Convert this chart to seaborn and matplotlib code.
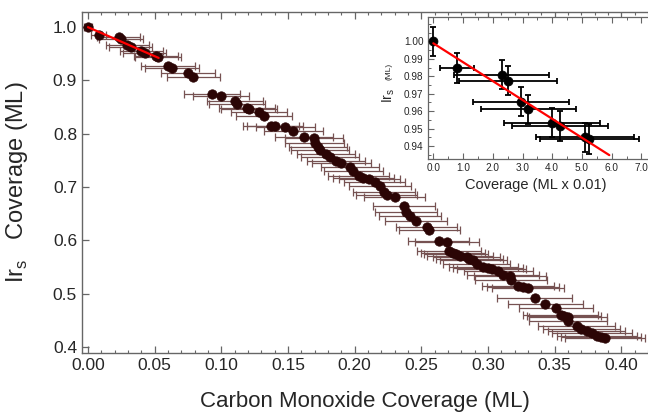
import matplotlib
matplotlib.use("Agg")
import matplotlib.pyplot as plt
import seaborn as sns
import numpy as np
from matplotlib.ticker import MultipleLocator, FormatStrFormatter

sns.set_style("ticks")
plt.rcParams['font.family'] = ['Liberation Sans', 'DejaVu Sans']
plt.rcParams['mathtext.fontset'] = 'custom'
plt.rcParams['mathtext.rm'] = 'Liberation Sans'

# ---- main data: CO coverage (ML) vs Ir_s coverage (ML) ----
co_cov = [0.000, 0.008, 0.023, 0.025, 0.0295, 0.032, 0.040, 0.0425, 0.051, 0.0525,
          0.060, 0.063, 0.075, 0.079, 0.093, 0.100, 0.110, 0.112, 0.119, 0.121,
          0.128, 0.132, 0.137, 0.140, 0.148, 0.154, 0.162, 0.1695, 0.170, 0.1725,
          0.174, 0.1785, 0.1815, 0.186, 0.190, 0.1965, 0.199, 0.203, 0.2065, 0.211,
          0.215, 0.219, 0.222, 0.224, 0.230, 0.237, 0.2385, 0.2415, 0.246, 0.254,
          0.256, 0.263, 0.269, 0.271, 0.274, 0.276, 0.279, 0.284, 0.286, 0.289,
          0.2915, 0.2965, 0.300, 0.3028, 0.3077, 0.3115, 0.3165, 0.317, 0.3228, 0.326,
          0.3303, 0.335, 0.343, 0.351, 0.3545, 0.357, 0.360, 0.360, 0.3665, 0.370,
          0.374, 0.378, 0.3815, 0.385, 0.3878]
ir_cov = [1.000, 0.985, 0.981, 0.9775, 0.9655, 0.961, 0.9535, 0.9515, 0.945, 0.943,
          0.926, 0.923, 0.914, 0.905, 0.874, 0.871, 0.860, 0.855, 0.848, 0.845,
          0.840, 0.832, 0.814, 0.814, 0.813, 0.804, 0.793, 0.791, 0.782, 0.775,
          0.770, 0.762, 0.756, 0.749, 0.745, 0.737, 0.729, 0.721, 0.717, 0.7155,
          0.710, 0.701, 0.690, 0.6855, 0.682, 0.664, 0.654, 0.645, 0.636, 0.626,
          0.619, 0.599, 0.598, 0.581, 0.5765, 0.574, 0.5715, 0.569, 0.566, 0.564,
          0.5565, 0.550, 0.548, 0.5465, 0.542, 0.536, 0.534, 0.5265, 0.515, 0.513,
          0.511, 0.493, 0.481, 0.4736, 0.461, 0.458, 0.457, 0.4486, 0.439, 0.435,
          0.431, 0.426, 0.422, 0.419, 0.4176]
co_err = [0.003, 0.0055, 0.016, 0.0165, 0.016, 0.016, 0.016, 0.016, 0.0165, 0.017,
          0.020, 0.020, 0.020, 0.020, 0.021, 0.021, 0.021, 0.021, 0.021, 0.021,
          0.021, 0.021, 0.021, 0.021, 0.022, 0.022, 0.022, 0.022, 0.022, 0.022,
          0.022, 0.022, 0.022, 0.022, 0.022, 0.022, 0.022, 0.023, 0.023, 0.023,
          0.023, 0.023, 0.023, 0.023, 0.023, 0.023, 0.023, 0.023, 0.023, 0.023,
          0.023, 0.023, 0.024, 0.024, 0.024, 0.024, 0.025, 0.025, 0.025, 0.025,
          0.025, 0.026, 0.026, 0.026, 0.026, 0.027, 0.027, 0.027, 0.027, 0.027,
          0.027, 0.028, 0.028, 0.028, 0.028, 0.028, 0.029, 0.029, 0.029, 0.029,
          0.029, 0.030, 0.030, 0.030, 0.030]

# main linear fit segment
fit_main_x = [0.000, 0.053]
fit_main_y = [0.999, 0.9415]

# ---- inset data (ML x 0.01) ----
ins_x = [0.0, 0.8, 2.3, 2.5, 2.95, 3.2, 4.0, 4.25, 5.1, 5.25]
ins_y = [1.000, 0.9848, 0.981, 0.9775, 0.9655, 0.961, 0.9535, 0.9515, 0.945, 0.944]
ins_xerr = [0.0, 0.58, 1.59, 1.65, 1.6, 1.6, 1.62, 1.62, 1.65, 1.67]
ins_yerr = [0.0085, 0.0085, 0.0085, 0.0085, 0.0085, 0.0085, 0.0085, 0.0085, 0.0085, 0.0085]
fit_ins_x = [0.0, 5.92]
fit_ins_y = [0.9989, 0.9348]

main_xticks = [0.00, 0.05, 0.10, 0.15, 0.20, 0.25, 0.30, 0.35, 0.40]
main_yticks = [0.4, 0.5, 0.6, 0.7, 0.8, 0.9, 1.0]
ins_xticks = [0.0, 1.0, 2.0, 3.0, 4.0, 5.0, 6.0, 7.0]
ins_yticks = [0.94, 0.95, 0.96, 0.97, 0.98, 0.99, 1.00]

spine_c = "#666666"

fig = plt.figure(figsize=(6.48, 4.12), dpi=100)
ax = fig.add_axes([0.1265, 0.144, 0.8735, 0.827])

ax.errorbar(co_cov, ir_cov, xerr=co_err, fmt='none', ecolor="#765252",
            elinewidth=0.9, capsize=3, capthick=0.9, zorder=2)
sns.scatterplot(x=co_cov, y=ir_cov, ax=ax, color="#2b0505", edgecolor="#2b0505",
                s=46, linewidth=0.5, zorder=3)
sns.lineplot(x=fit_main_x, y=fit_main_y, ax=ax, color="red", linewidth=1.6, zorder=4)

ax.set_xlim(-0.0045, 0.42)
ax.set_ylim(0.39, 1.0275)
ax.set_xticks(main_xticks)
ax.set_yticks(main_yticks)
ax.xaxis.set_minor_locator(MultipleLocator(0.01))
ax.xaxis.set_major_formatter(FormatStrFormatter('%.2f'))
ax.yaxis.set_major_formatter(FormatStrFormatter('%.1f'))
ax.tick_params(axis='x', which='both', direction='in', top=True, bottom=True,
               labelsize=12.5, color=spine_c, pad=4)
ax.tick_params(axis='x', which='major', length=5, width=0.9)
ax.tick_params(axis='x', which='minor', length=2.5, width=0.8)
ax.tick_params(axis='y', which='major', direction='in', length=5, width=0.9,
               labelsize=12.5, color=spine_c, right=False)
for s in ['left', 'bottom', 'top']:
    ax.spines[s].set_color(spine_c)
    ax.spines[s].set_linewidth(1.0)
ax.spines['right'].set_visible(False)
ax.set_xlabel("Carbon Monoxide Coverage (ML)", fontsize=16)
ax.xaxis.set_label_coords(0.5, -0.112)
ax.set_ylabel(r"Ir$_\mathregular{s}$   Coverage (ML)", fontsize=17)
ax.yaxis.set_label_coords(-0.092, 0.5)

# ---- inset ----
axin = fig.add_axes([0.660, 0.6133, 0.345, 0.3447])
axin.set_facecolor("white")
axin.errorbar(ins_x, ins_y, xerr=ins_xerr, yerr=ins_yerr, fmt='none', ecolor="black",
              elinewidth=1.3, capsize=2, capthick=1.3, zorder=2)
sns.scatterplot(x=ins_x, y=ins_y, ax=axin, color="black", edgecolor="black",
                s=42, linewidth=0.5, zorder=3)
sns.lineplot(x=fit_ins_x, y=fit_ins_y, ax=axin, color="red", linewidth=1.6, zorder=4)
axin.set_xlim(-0.19, 7.33)
axin.set_ylim(0.9324, 1.0138)
axin.set_xticks(ins_xticks)
axin.set_yticks(ins_yticks)
axin.xaxis.set_minor_locator(MultipleLocator(0.5))
axin.yaxis.set_minor_locator(MultipleLocator(0.005))
axin.xaxis.set_major_formatter(FormatStrFormatter('%.1f'))
axin.yaxis.set_major_formatter(FormatStrFormatter('%.2f'))
axin.tick_params(axis='both', which='both', direction='in', labelsize=7.2,
                 color=spine_c, pad=3)
axin.tick_params(axis='x', which='both', top=True)
axin.tick_params(axis='y', which='both', right=False)
axin.tick_params(which='major', length=4, width=0.8)
axin.tick_params(which='minor', length=2, width=0.7)
for s in ['left', 'bottom', 'top']:
    axin.spines[s].set_color(spine_c)
    axin.spines[s].set_linewidth(0.9)
axin.spines['right'].set_visible(False)
axin.set_xlabel("Coverage (ML x 0.01)", fontsize=10.5)
axin.xaxis.set_label_coords(0.485, -0.13)
axin.set_ylabel("")
fig.text(0.600, 0.768, r"Ir$_\mathregular{s}$", rotation=90, fontsize=10,
         ha='center', va='center')
fig.text(0.600, 0.826, "(ML)", rotation=90, fontsize=6, ha='center', va='center')

fig.savefig("out.png", dpi=100)
